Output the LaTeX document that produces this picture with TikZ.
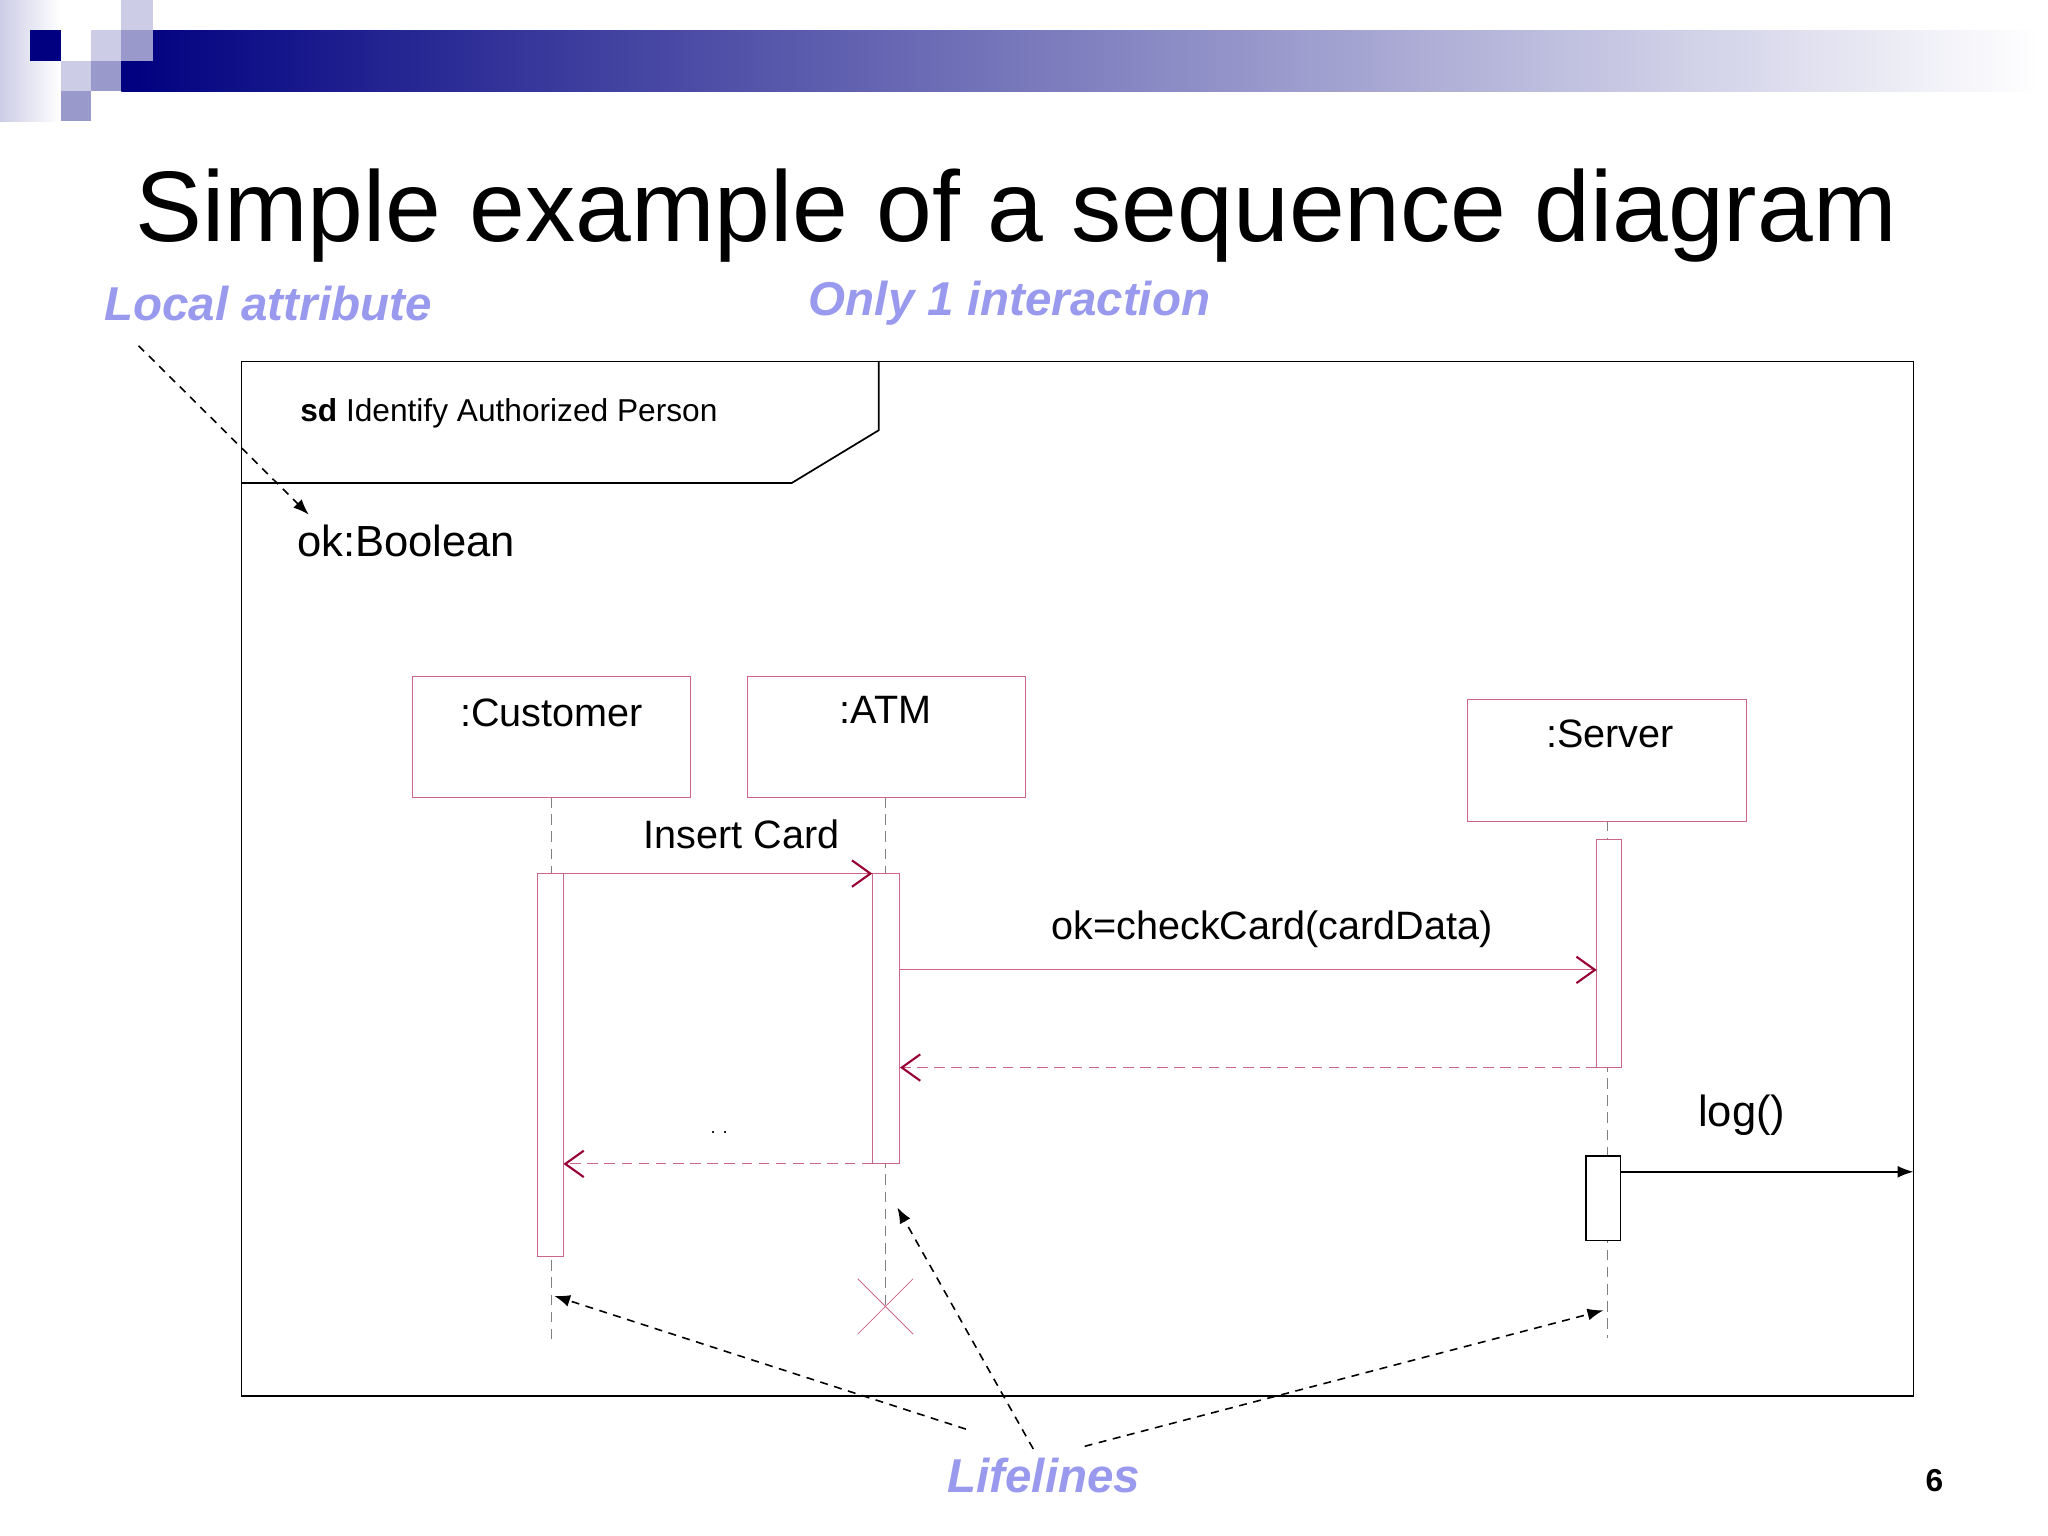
\documentclass[tikz,border=0pt]{standalone}
\usepackage{fontspec}
\setmainfont{Liberation Sans}
\usetikzlibrary{arrows.meta}
\definecolor{navy}{HTML}{000080}
\definecolor{lsq}{HTML}{CCCCE6}
\definecolor{msq}{HTML}{9999CC}
\definecolor{note}{HTML}{9999EE}
\definecolor{pinkl}{HTML}{CC6688}
\definecolor{maroon}{HTML}{990033}
\tikzset{
 lifebox/.style={draw=pinkl,line width=0.8pt,minimum width=211pt,minimum height=92pt,anchor=north west,inner sep=0pt},
 actbar/.style={draw=pinkl,line width=0.8pt,fill=white},
 lifeline/.style={draw=gray,dashed,dash pattern=on 8pt off 5pt,line width=0.8pt},
 msg/.style={draw=pinkl,line width=0.8pt,-{Straight Barb[length=14pt,width=20pt,line width=1.6pt,color=maroon]}},
 ret/.style={msg,dashed,dash pattern=on 8pt off 5pt},
 notearr/.style={black,line width=1.2pt,dash pattern=on 6pt off 5pt,-{Latex[length=12pt,width=9pt]}},
 notelbl/.style={text=note,font=\fontsize{36}{40}\selectfont\bfseries\itshape,inner sep=0pt}
}
\begin{document}
\begin{tikzpicture}[x=1pt,y=-1pt]
\useasboundingbox (0,0) rectangle (1552,1164);
\fill[white] (0,0) rectangle (1552,1164);
% header
\shade[left color=lsq,right color=white] (0,0) rectangle (46,92);
\shade[left color=navy,right color=white] (92,23) rectangle (1545,69);
\fill[lsq] (69,23) rectangle (92,46);
\fill[lsq] (92,0) rectangle (116,23);
\fill[msq] (92,23) rectangle (116,46);
\fill[lsq] (46,46) rectangle (69,69);
\fill[msq] (69,46) rectangle (92,69);
\fill[msq] (46,69) rectangle (92,92);
\fill[white] (69,69) rectangle (92,92);
\fill[navy] (23,23) rectangle (46,46);
% title
\node (title) at (770,163) {\fontsize{76}{86}\selectfont Simple example of a sequence diagram};
\node[notelbl] (la) at (203,230) {Local attribute};
\node[notelbl] (oi) at (765,230) {Only 1 interaction};
\node[notelbl] (ll) at (791,1118) {Lifelines};
\node[font=\fontsize{24}{28}\selectfont\bfseries] (pg) at (1466,1122) {6};
% frame
\draw[line width=1.3pt] (183,274) rectangle (1450,1058);
\draw[line width=1.3pt] (183,366) -- (600,366) -- (666,326) -- (666,274);
\node[anchor=west,font=\fontsize{24}{28}\selectfont] (sd) at (224,313) {\textbf{sd} Identify Authorized Person};
\node[anchor=west,font=\fontsize{33}{38}\selectfont,inner sep=0pt] (ok) at (225,410) {ok:Boolean};
% lifelines
\draw[lifeline] (418,604) -- (418,1016);
\draw[lifeline] (671,604) -- (671,990);
\draw[lifeline] (1218,622) -- (1218,1014);
\node[lifebox] (cust) at (312,512) {};
\node[lifebox] (atm) at (566,512) {};
\node[lifebox] (srv) at (1112,530) {};
\node[font=\fontsize{30}{34}\selectfont] at (418,540) {:Customer};
\node[font=\fontsize{30}{34}\selectfont] at (671,538) {:ATM};
\node[font=\fontsize{30}{34}\selectfont] at (1220,556) {:Server};
% activation bars
\draw[actbar] (407,662) rectangle (427,952);
\draw[actbar] (661,662) rectangle (682,882);
\draw[actbar] (1210,636) rectangle (1229,809);
\draw[black,line width=1.3pt,fill=white] (1202,876) rectangle (1228,940);
\coordinate (c1) at (427,662); \coordinate (a1) at (661,662);
\coordinate (a2) at (682,735); \coordinate (s2) at (1210,735);
\coordinate (s3) at (1210,809); \coordinate (a3) at (682,809);
\coordinate (a4) at (661,882); \coordinate (c4) at (427,882);
\coordinate (b5) at (1228,888); \coordinate (f5) at (1450,888);
\draw[msg] (c1) -- (a1);
\draw[msg] (a2) -- (s2);
\draw[ret] (s3) -- (a3);
\draw[ret] (a4) -- (c4);
\draw[black,line width=1.2pt,-{Latex[length=12pt,width=9pt]}] (b5) -- (f5);
\node[font=\fontsize{30}{34}\selectfont] at (562,632) {Insert Card};
\node[font=\fontsize{30}{34}\selectfont] at (964,704) {ok=checkCard(cardData)};
\node[font=\fontsize{33}{38}\selectfont] at (1320,845) {log()};
\node[font=\fontsize{14}{16}\selectfont] at (545,858) {. .};
% destroy
\draw[pinkl,line width=0.6pt] (650,969) -- (692,1011) (650,1011) -- (692,969);
% notes
\coordinate (n1) at (105,262); \coordinate (t1) at (234,390);
\draw[notearr] (n1) -- (t1);
\coordinate (n2) at (732,1083); \coordinate (t2) at (420,982);
\draw[notearr] (n2) -- (t2);
\coordinate (n3) at (783,1098); \coordinate (t3) at (680,915);
\draw[notearr] (n3) -- (t3);
\coordinate (n4) at (822,1096); \coordinate (t4) at (1215,993);
\draw[notearr] (n4) -- (t4);
\end{tikzpicture}
\end{document}
